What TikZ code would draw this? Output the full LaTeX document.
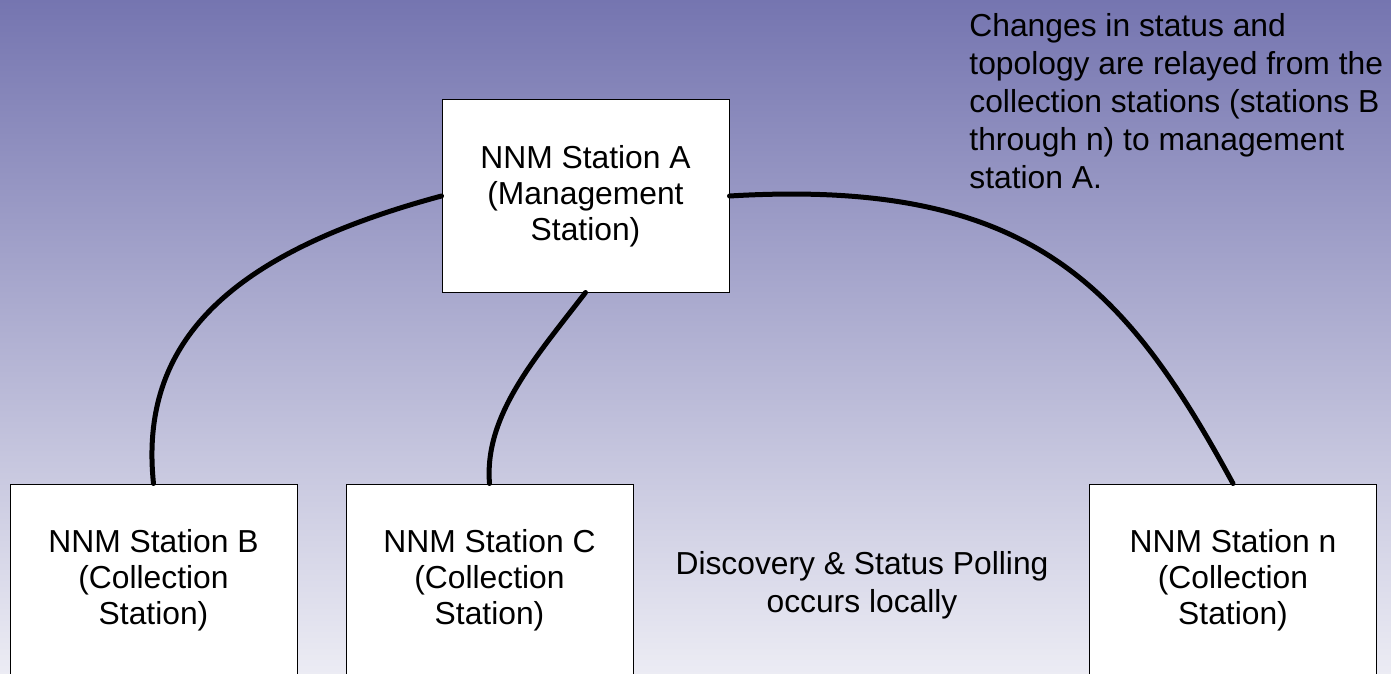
\documentclass[tikz,border=0pt]{standalone}
\usepackage{fontspec}
\setmainfont{Liberation Sans}
\usetikzlibrary{positioning}

\definecolor{bgtop}{RGB}{117,117,176}
\definecolor{bgbot}{RGB}{236,236,244}

\begin{document}
\begin{tikzpicture}[
  x=0.5pt, y=-0.5pt,
  station/.style={rectangle, draw=black, line width=0.5pt, fill=white, align=center,
    minimum width=143.5pt, minimum height=96pt, inner sep=0pt,
    font=\fontsize{15.9}{18}\selectfont},
  note/.style={inner sep=0pt, font=\fontsize{15.9}{19}\selectfont},
  link/.style={line width=2.5pt, line cap=round}
  ]
  \useasboundingbox (0,0) rectangle (1391,674);
  \clip (0,0) rectangle (1391,674);
  \shade[top color=bgtop, bottom color=bgbot] (0,0) rectangle (1391,674);

  \node[station] (mgmt) at (585.5,196) {NNM Station A\\(Management\\Station)};
  \node[station] (collB) at (153.5,580) {NNM Station B\\(Collection\\Station)};
  \node[station] (collC) at (489.5,580) {NNM Station C\\(Collection\\Station)};
  \node[station] (collN) at (1233,580) {NNM Station n\\(Collection\\Station)};

  \node[note, align=left, anchor=west] (relay) at (969,101)
    {Changes in status and\\topology are relayed from the\\collection stations (stations B\\through n) to management\\station A.};
  \node[note, align=center] (poll) at (862,585) {Discovery \& Status Polling\\occurs locally};

  \draw[link] (mgmt.west) .. controls (226,254) and (139,344) .. (collB.north);
  \draw[link] (mgmt.south) .. controls (536,357) and (484,415) .. (collC.north);
  \draw[link] (mgmt.east) .. controls (1030,178) and (1125,285) .. (collN.north);
\end{tikzpicture}
\end{document}
